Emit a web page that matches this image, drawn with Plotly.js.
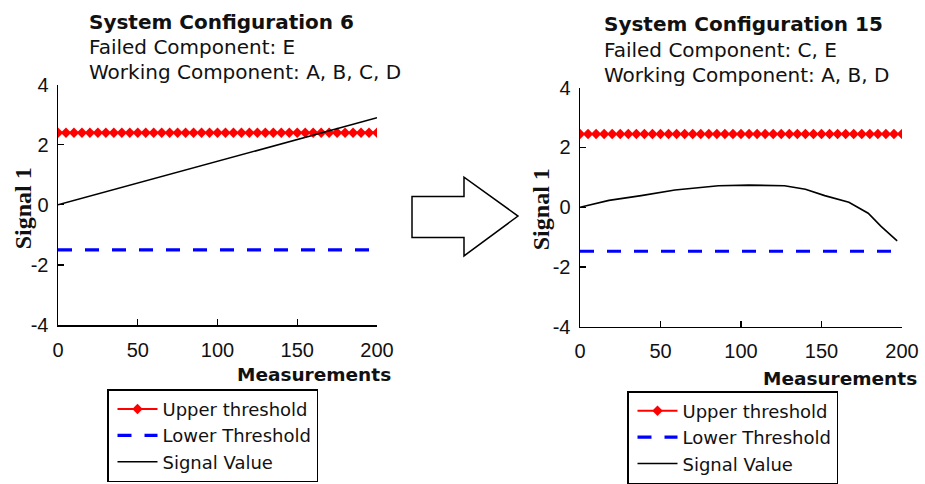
<!DOCTYPE html>
<html>
<head>
<meta charset="utf-8">
<script src="https://cdn.plot.ly/plotly-3.0.1.min.js"></script>
<style>html,body{margin:0;padding:0;background:#fff;}#chart{width:925px;height:484px;}</style>
</head>
<body>
<div id="chart"></div>
<script>
// ---- data ----
const thresholdX = [0,5,10,15,20,25,30,35,40,45,50,55,60,65,70,75,80,85,90,95,100,105,110,115,120,125,130,135,140,145,150,155,160,165,170,175,180,185,190,195,200];
const upperThreshold6 = 2.4;
const lowerThreshold6 = -1.5;
const upperThreshold15 = 2.45;
const lowerThreshold15 = -1.47;

const signal6X = [0, 25, 50, 75, 100, 125, 150, 175, 200];
const signal6Y = [0, 0.36, 0.73, 1.09, 1.45, 1.81, 2.18, 2.54, 2.9];

const signal15X = [0, 18, 38, 59, 86, 105, 127, 140, 152, 167, 179, 187, 197];
const signal15Y = [0, 0.23, 0.39, 0.58, 0.72, 0.74, 0.72, 0.6, 0.39, 0.17, -0.2, -0.64, -1.12];

const titles6 = ["System Configuration 6", "Failed Component: E", "Working Component: A, B, C, D"];
const titles15 = ["System Configuration 15", "Failed Component: C, E", "Working Component: A, B, D"];
const legendNames = ["Upper threshold", "Lower Threshold", "Signal Value"];
const xTicks = [0, 50, 100, 150, 200];
const xTickText = ["0", "50", "100", "150", "200"];
const yTicks = [-4, -2, 0, 2, 4];
const yTickText = ["-4", "-2", "0", "2", "4"];
const xTitle = "Measurements";
const yTitle = "Signal 1";

// ---- helpers ----
const W = 925, H = 484;
const px = x => x / W;
const py = y => 1 - y / H;
const upper6 = thresholdX.map(() => upperThreshold6);
const lower6 = thresholdX.map(() => lowerThreshold6);
const upper15 = thresholdX.map(() => upperThreshold15);
const lower15 = thresholdX.map(() => lowerThreshold15);

const upperStyle = {mode: 'lines+markers', line: {color: '#ff0000', width: 2}, marker: {symbol: 'diamond', size: 8, color: '#ff0000'}};
const lowerStyle = {mode: 'lines', line: {color: '#0000ff', width: 3.2, dash: '14px,13px'}};
const signalStyle = {mode: 'lines', line: {color: '#000000', width: 1.6}};

const traces = [
  Object.assign({x: thresholdX, y: upper6, name: legendNames[0], xaxis: 'x', yaxis: 'y', legend: 'legend', legendgroup: 'a1'}, upperStyle),
  Object.assign({x: thresholdX, y: lower6, name: legendNames[1], xaxis: 'x', yaxis: 'y', legend: 'legend', legendgroup: 'a2'}, lowerStyle),
  Object.assign({x: signal6X, y: signal6Y, name: legendNames[2], xaxis: 'x', yaxis: 'y', legend: 'legend', legendgroup: 'a3'}, signalStyle),
  Object.assign({x: thresholdX, y: upper15, name: legendNames[0], xaxis: 'x2', yaxis: 'y2', legend: 'legend2', legendgroup: 'b1'}, upperStyle),
  Object.assign({x: thresholdX, y: lower15, name: legendNames[1], xaxis: 'x2', yaxis: 'y2', legend: 'legend2', legendgroup: 'b2'}, lowerStyle),
  Object.assign({x: signal15X, y: signal15Y, name: legendNames[2], xaxis: 'x2', yaxis: 'y2', legend: 'legend2', legendgroup: 'b3'}, signalStyle)
];

const tickFont = {family: '"Liberation Sans", Arial, sans-serif', size: 20, color: '#111'};
function xAxis(domain, anchor) {
  return {domain: domain, anchor: anchor, range: [0, 200], tickvals: xTicks, ticktext: xTickText, ticks: 'inside', ticklen: 6, tickwidth: 1.3,
    tickcolor: '#000', showline: true, linecolor: '#000', linewidth: 1.5, showgrid: false, zeroline: false,
    tickfont: tickFont, ticklabelstandoff: 6, fixedrange: true};
}
function yAxis(domain, anchor) {
  return {domain: domain, anchor: anchor, range: [-4, 4], tickvals: yTicks, ticktext: yTickText, ticks: 'inside', ticklen: 6, tickwidth: 1.3,
    tickcolor: '#000', showline: true, linecolor: '#000', linewidth: 1.5, showgrid: false, zeroline: false,
    tickfont: tickFont, ticklabelstandoff: 4, fixedrange: true};
}

const titleFontB = {family: '"DejaVu Sans", Verdana, sans-serif', size: 20, color: '#111'};
const titleFont = {family: '"DejaVu Sans", Verdana, sans-serif', size: 20, color: '#111'};
const ann = [];
function addTitles(lines, x, ys) {
  lines.forEach((t, i) => ann.push({xref: 'paper', yref: 'paper', x: px(x), y: py(ys[i]), xanchor: 'left', yanchor: 'middle',
    text: i === 0 ? '<b>' + t + '</b>' : t, showarrow: false, font: i === 0 ? titleFontB : titleFont}));
}
addTitles(titles6, 87, [23, 48, 74]);
addTitles(titles15, 602, [25, 51, 77]);
function addAxisTitles(mx, my, sx, sy) {
  ann.push({xref: 'paper', yref: 'paper', x: px(mx), y: py(my), xanchor: 'center', yanchor: 'middle', text: '<b>' + xTitle + '</b>',
    showarrow: false, font: {family: '"DejaVu Sans", Verdana, sans-serif', size: 18.5, color: '#111'}});
  ann.push({xref: 'paper', yref: 'paper', x: px(sx), y: py(sy), xanchor: 'center', yanchor: 'middle', text: '<b>' + yTitle + '</b>',
    textangle: -90, showarrow: false, font: {family: '"Liberation Serif", "Times New Roman", serif', size: 24, color: '#111'}});
}
addAxisTitles(314, 385, 23, 214);
addAxisTitles(840, 389, 541, 215);

const arrowPts = [[412,202],[464,202],[464,182],[518,222],[464,263],[464,244],[412,244]];
const arrowPath = 'M' + arrowPts.map(p => px(p[0]).toFixed(5) + ',' + py(p[1]).toFixed(5)).join('L') + 'Z';

const legendFont = {family: '"DejaVu Sans", Verdana, sans-serif', size: 18, color: '#111'};
function legend(x, y) {
  return {x: px(x), y: py(y), xanchor: 'left', yanchor: 'top', bordercolor: '#000', borderwidth: 1.5, bgcolor: '#fff',
    font: legendFont, traceorder: 'grouped', tracegroupgap: 0, itemwidth: 40, indentation: 4};
}

const layout = {
  width: W, height: H, margin: {l: 0, r: 0, t: 0, b: 0}, paper_bgcolor: '#fff', plot_bgcolor: '#fff', showlegend: true,
  xaxis: xAxis([px(58), px(377)], 'y'), yaxis: yAxis([py(334), py(87)], 'x'),
  xaxis2: xAxis([px(580), px(902)], 'y2'), yaxis2: yAxis([py(336), py(90)], 'x2'),
  legend: legend(107, 400), legend2: legend(627, 402),
  annotations: ann,
  shapes: [{type: 'path', xref: 'paper', yref: 'paper', path: arrowPath, line: {color: '#000', width: 1.5}, fillcolor: 'rgba(0,0,0,0)'}]
};

Plotly.newPlot('chart', traces, layout, {staticPlot: true, displayModeBar: false});
</script>
</body>
</html>
